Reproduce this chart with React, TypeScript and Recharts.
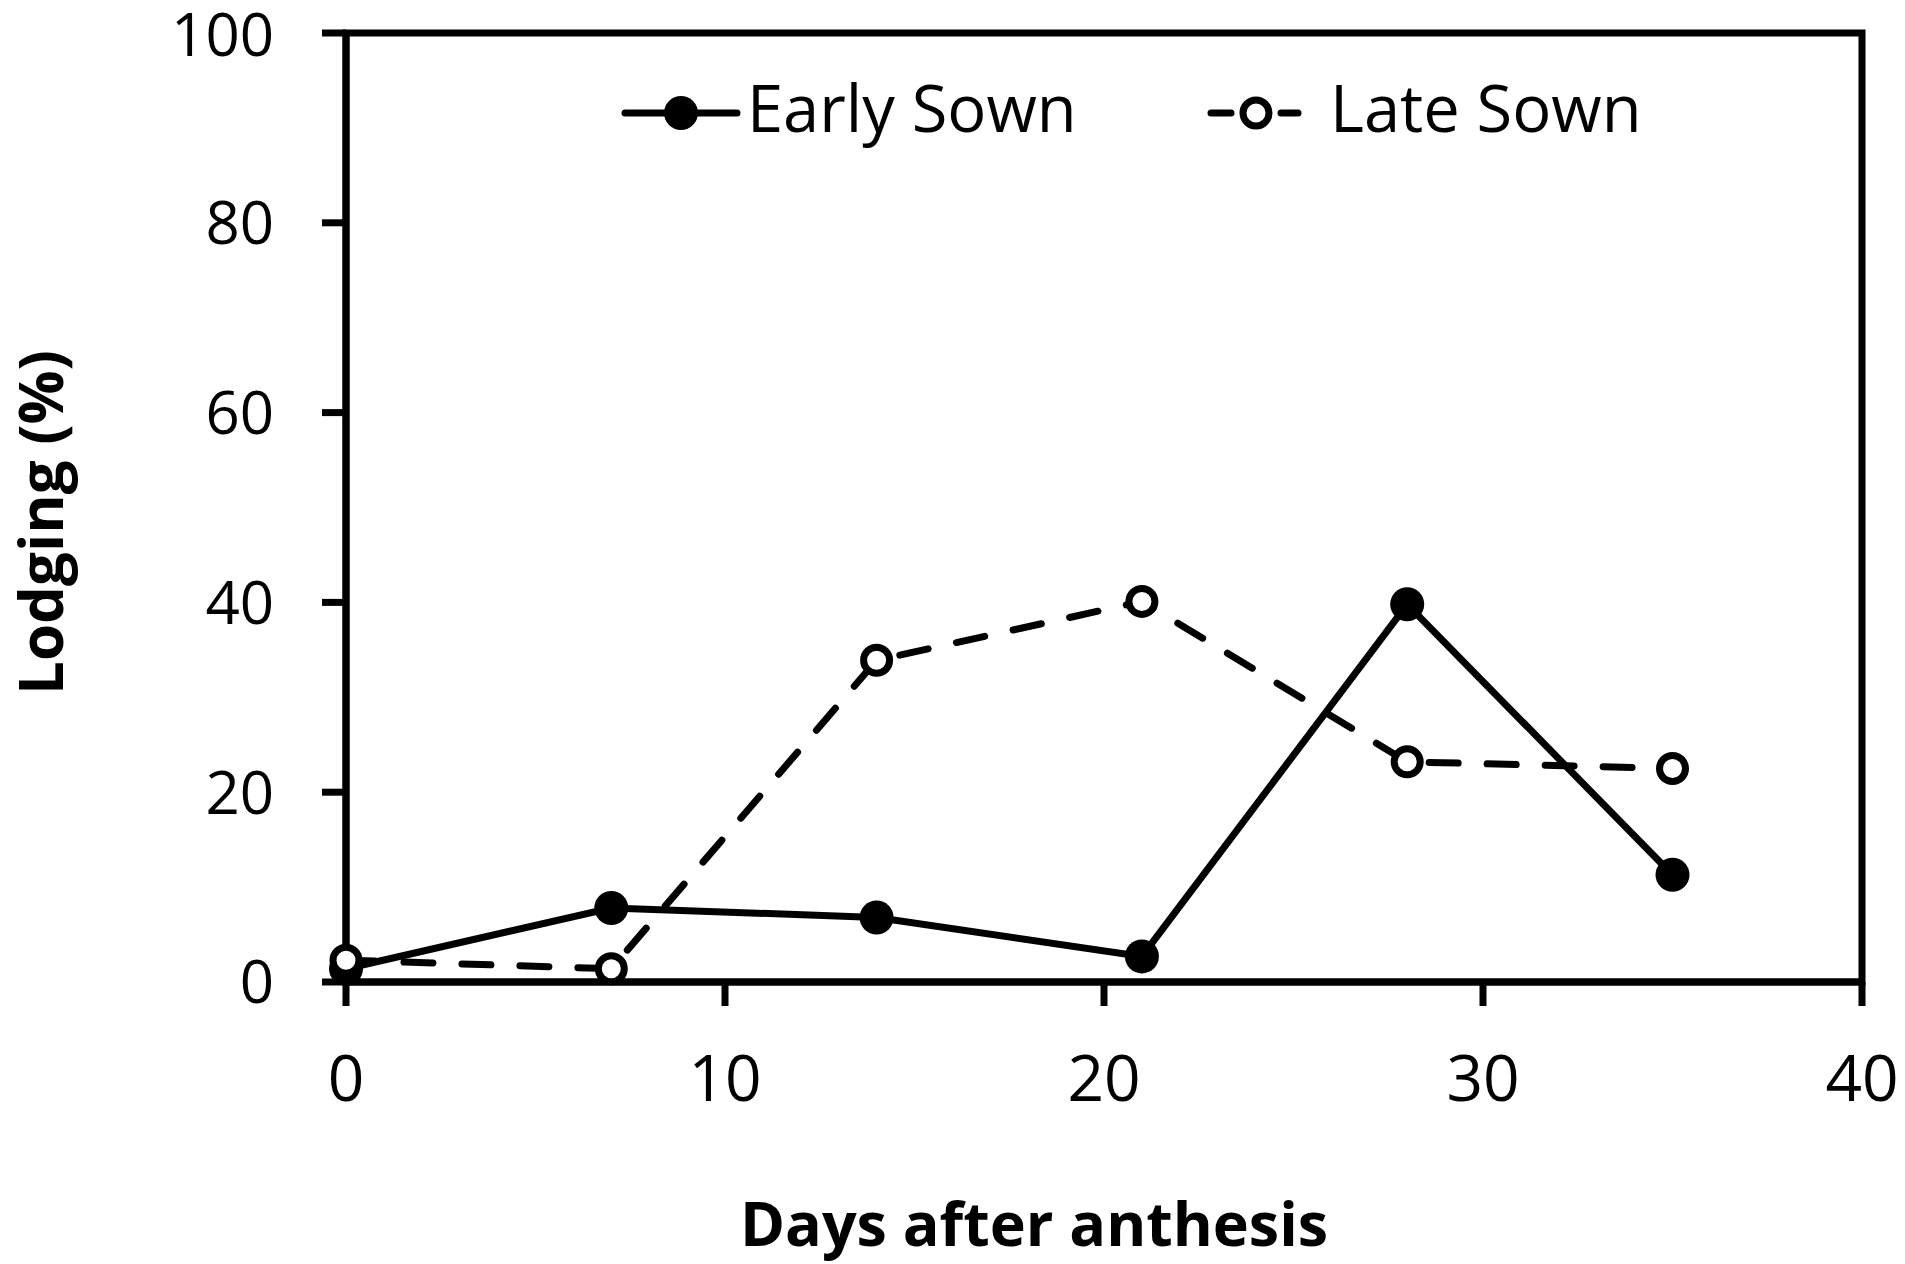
import React from "react";
import {
  LineChart,
  Line,
  XAxis,
  YAxis,
  ReferenceArea,
  Label,
} from "recharts";

const days = [0, 7, 14, 21, 28, 35];
const earlySown = [1.4, 7.8, 6.8, 2.7, 39.8, 11.3];
const lateSown = [2.3, 1.4, 33.9, 40.1, 23.2, 22.5];
const xTicks = [0, 10, 20, 30, 40];
const yTicks = [0, 20, 40, 60, 80, 100];

const data = days.map((d, i) => ({
  day: d,
  early: earlySown[i],
  late: lateSown[i],
}));

const FONT = "'Open Sans', sans-serif";

function FilledDot(props: any) {
  const { cx, cy } = props;
  if (cx == null || cy == null) return null;
  return <circle cx={cx} cy={cy} r={17} fill="#000" />;
}

function OpenDot(props: any) {
  const { cx, cy } = props;
  if (cx == null || cy == null) return null;
  return <circle cx={cx} cy={cy} r={13} fill="#fff" stroke="#000" strokeWidth={7} />;
}

function ChartLegend() {
  const text: React.CSSProperties = {
    position: "absolute",
    fontFamily: FONT,
    fontSize: 65,
    lineHeight: "65px",
    color: "#000",
    whiteSpace: "nowrap",
  };
  return (
    <div style={{ position: "absolute", left: 0, top: 0, width: 1905, height: 200 }}>
      <svg
        style={{ position: "absolute", left: 620, top: 90 }}
        width={124}
        height={46}
      >
        <line x1={5} y1={23} x2={117} y2={23} stroke="#000" strokeWidth={7} strokeLinecap="round" />
        <circle cx={61} cy={23} r={17} fill="#000" />
      </svg>
      <span style={{ ...text, left: 747, top: 75 }}>Early Sown</span>
      <svg
        style={{ position: "absolute", left: 1205, top: 90 }}
        width={100}
        height={46}
      >
        <line x1={6} y1={23} x2={26} y2={23} stroke="#000" strokeWidth={7} strokeLinecap="round" />
        <line x1={76} y1={23} x2={93} y2={23} stroke="#000" strokeWidth={7} strokeLinecap="round" />
        <circle cx={51} cy={23} r={13} fill="#fff" stroke="#000" strokeWidth={7} />
      </svg>
      <span style={{ ...text, left: 1330, top: 75 }}>Late Sown</span>
    </div>
  );
}

export default function App() {
  return (
    <div style={{ position: "absolute", left: 0, top: 0, width: 1905, height: 1264, background: "#fff" }}>
      <LineChart
        width={1905}
        height={1264}
        data={data}
        margin={{ top: 33, right: 43, bottom: 82, left: 146 }}
      >
        <XAxis
          dataKey="day"
          type="number"
          domain={[0, 40]}
          ticks={xTicks}
          height={200}
          axisLine={{ stroke: "#000", strokeWidth: 7 }}
          tickLine={{ stroke: "#000", strokeWidth: 7 }}
          tickSize={24}
          tickMargin={50}
          tick={{ fill: "#000", fontSize: 64, fontFamily: FONT }}
        >
          <Label
            content={({ viewBox }: any) => (
              <text
                x={viewBox.x + viewBox.width / 2 - 70}
                y={viewBox.y + 240}
                textAnchor="middle"
                dominantBaseline="central"
                fontFamily={FONT}
                fontWeight="bold"
                fontSize={61}
                fill="#000"
              >
                Days after anthesis
              </text>
            )}
          />
        </XAxis>
        <YAxis
          type="number"
          domain={[0, 100]}
          ticks={yTicks}
          width={200}
          axisLine={{ stroke: "#000", strokeWidth: 7 }}
          tickLine={{ stroke: "#000", strokeWidth: 7 }}
          tickSize={24}
          tickMargin={48}
          tick={{ fill: "#000", fontSize: 60, fontFamily: FONT }}
        >
          <Label
            content={({ viewBox }: any) => {
              const cx = 40;
              const cy = viewBox.y + viewBox.height / 2 + 15;
              return (
                <text
                  x={cx}
                  y={cy}
                  transform={`rotate(-90 ${cx} ${cy})`}
                  textAnchor="middle"
                  dominantBaseline="central"
                  fontFamily={FONT}
                  fontWeight="bold"
                  fontSize={60}
                  fill="#000"
                >
                  Lodging (%)
                </text>
              );
            }}
          />
        </YAxis>
        <ReferenceArea
          x1={0}
          x2={40}
          y1={0}
          y2={100}
          fill="none"
          stroke="#000"
          strokeWidth={7}
          ifOverflow="visible"
        />
        <Line
          dataKey="early"
          name="Early Sown"
          type="linear"
          stroke="#000"
          strokeWidth={7}
          dot={<FilledDot />}
          activeDot={false}
          isAnimationActive={false}
        />
        <Line
          dataKey="late"
          name="Late Sown"
          type="linear"
          stroke="#000"
          strokeWidth={7}
          strokeDasharray="29 29"
          strokeLinecap="round"
          dot={<OpenDot />}
          activeDot={false}
          isAnimationActive={false}
        />
      </LineChart>
      <ChartLegend />
    </div>
  );
}
